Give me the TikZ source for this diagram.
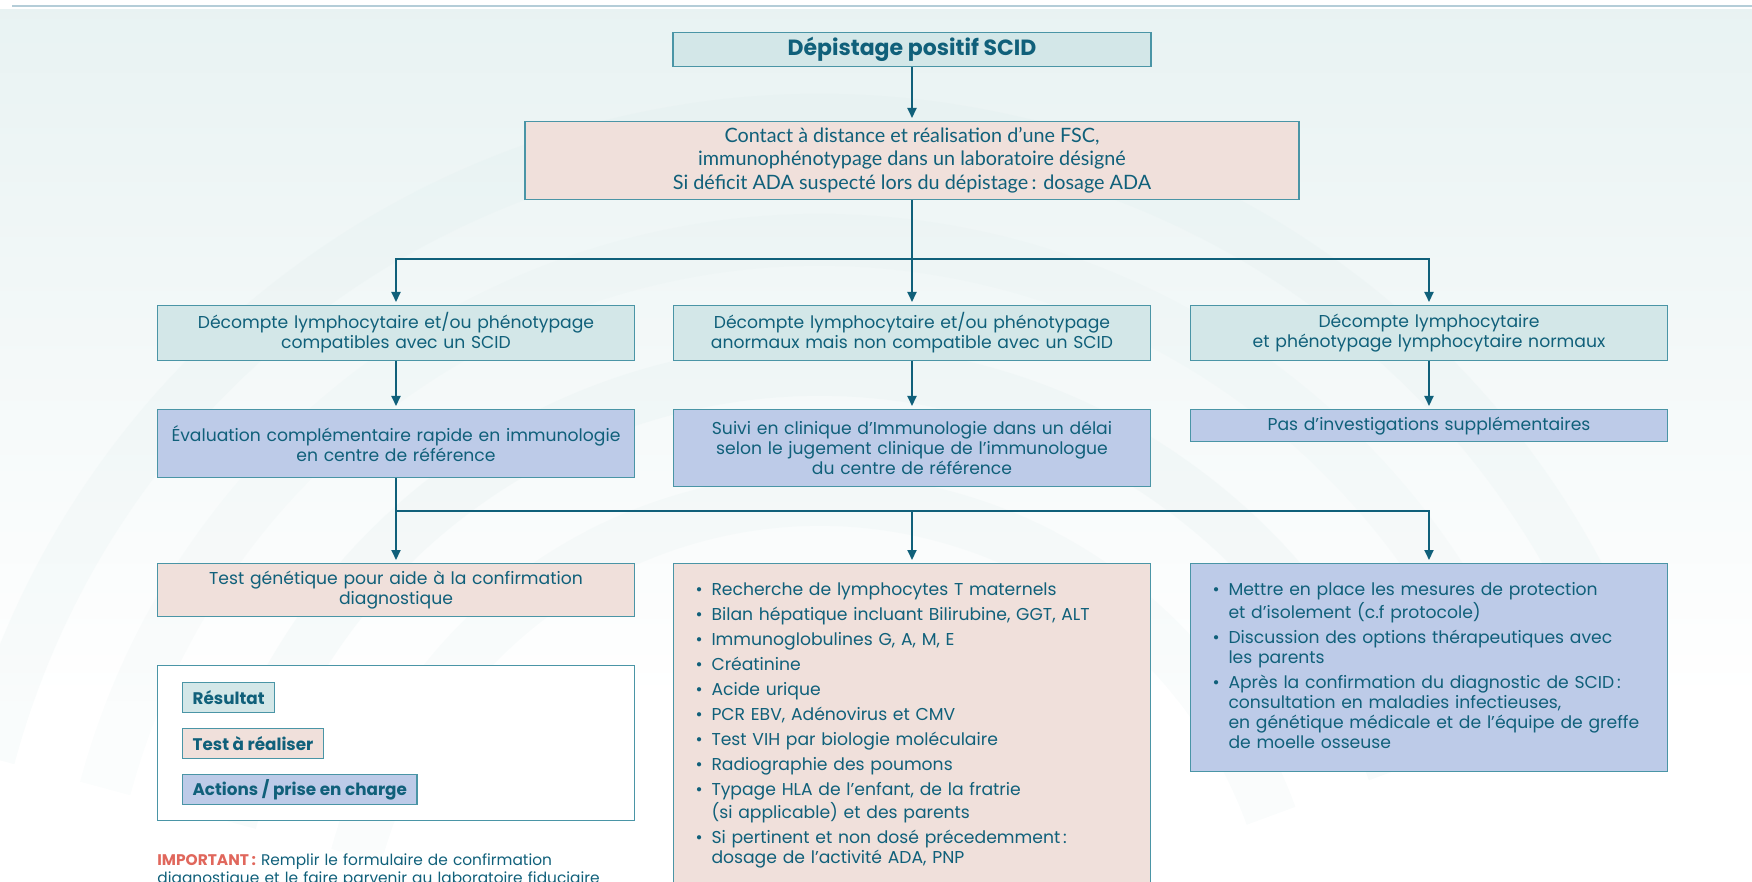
\documentclass[tikz,border=0pt]{standalone}
\usepackage{fontspec}
\setmainfont{Poppins}
\newfontfamily\etroit{Lato}
\usetikzlibrary{arrows.meta}

\definecolor{encre}{HTML}{10607A}
\definecolor{bord}{HTML}{4A95A6}
\definecolor{resfill}{HTML}{D3E7E8}
\definecolor{testfill}{HTML}{F0E0DB}
\definecolor{actfill}{HTML}{BDCBE8}
\definecolor{alerte}{HTML}{E0675C}
\definecolor{filet}{HTML}{B4CDD8}
\definecolor{voile}{HTML}{D6E8E8}

\newcommand{\puce}[1]{\par\hangindent=8pt\hangafter=1\noindent\makebox[8pt][l]{\textbullet}#1}

\tikzset{
  boite/.style={draw=bord, line width=0.6pt, text=encre, align=center, inner sep=0pt, anchor=north,
                font=\fontsize{8.6}{10}\selectfont},
  colonne/.style={minimum width=238.5pt, text width=238.5pt},
  resultat/.style={boite, fill=resfill},
  atester/.style={boite, fill=testfill},
  action/.style={boite, fill=actfill},
  liste/.style={align=left, text width=216.5pt, inner xsep=11pt, inner ysep=3.5pt},
  etiquette/.style={inner xsep=5pt, minimum height=15pt, anchor=north west,
                    font=\bfseries\fontsize{8.4}{10}\selectfont},
  fleche/.style={draw=encre, line width=1pt, shorten >=1.5pt, -{Triangle[width=4.5pt,length=5pt]}},
  trait/.style={draw=encre, line width=1pt, line cap=rect},
}

\begin{document}
\begin{tikzpicture}[x=0.5pt, y=-0.5pt]
    \useasboundingbox (0,0) rectangle (1752,882);
    \clip (0,0) rectangle (1752,882);
    \shade[top color=voile!55, bottom color=white] (0,10) rectangle (1752,700);
    \foreach \r/\o in {480/0.12, 610/0.16, 740/0.10, 860/0.14}
        \draw[voile, line width=26pt, opacity=\o] (820,980) ++(-165:\r) arc[start angle=-165, end angle=-20, radius=\r];
    \draw[filet, line width=0.8pt] (12,6) -- (1752,6);

    \node[resultat, minimum width=239pt, minimum height=17pt,
          font=\bfseries\fontsize{11}{12}\selectfont] (depistage) at (912,32) {Dépistage positif SCID};

    \node[atester, minimum width=387pt, minimum height=39pt,
          font=\etroit\fontsize{9.9}{11.2}\selectfont] (contact) at (912,121)
          {Contact à distance et réalisation d’une FSC,\\ immunophénotypage dans un laboratoire désigné\\[1pt]
           Si déficit ADA suspecté lors du dépistage\,: dosage ADA};

    \node[resultat, colonne, minimum height=27.5pt] (compat) at (396,305)
          {Décompte lymphocytaire et/ou phénotypage\\ compatibles avec un SCID};
    \node[resultat, colonne, minimum height=27.5pt] (anormal) at (912,305)
          {Décompte lymphocytaire et/ou phénotypage\\ anormaux mais non compatible avec un SCID};
    \node[resultat, colonne, minimum height=27.5pt] (normal) at (1429,305)
          {Décompte lymphocytaire\\ et phénotypage lymphocytaire normaux};

    \node[action, colonne, minimum height=34pt] (evaluation) at (396,409)
          {Évaluation complémentaire rapide en immunologie\\ en centre de référence};
    \node[action, colonne, minimum height=38.5pt] (suivi) at (912,409)
          {Suivi en clinique d’Immunologie dans un délai\\ selon le jugement clinique de l’immunologue\\ du centre de référence};
    \node[action, colonne, minimum height=16pt] (pasinv) at (1429,409)
          {Pas d’investigations supplémentaires};

    \node[atester, colonne, minimum height=26.5pt] (genetique) at (396,563)
          {Test génétique pour aide à la confirmation\\ diagnostique};
    \node[atester, liste] (bilan) at (912,563)
          {\setlength{\parskip}{2.5pt}%
           \puce{Recherche de lymphocytes T maternels}
           \puce{Bilan hépatique incluant Bilirubine, GGT, ALT}
           \puce{Immunoglobulines G, A, M, E}
           \puce{Créatinine}
           \puce{Acide urique}
           \puce{PCR EBV, Adénovirus et CMV}
           \puce{Test VIH par biologie moléculaire}
           \puce{Radiographie des poumons}
           \puce{Typage HLA de l’enfant, de la fratrie\newline (si applicable) et des parents}
           \puce{Si pertinent et non dosé précedemment\,:\newline dosage de l’activité ADA, PNP}
           \par\vspace{30pt}};
    \node[action, liste] (mesures) at (1429,563)
          {\setlength{\parskip}{2.5pt}%
           \puce{Mettre en place les mesures de protection\newline et d’isolement (c.f protocole)}
           \puce{Discussion des options thérapeutiques avec\newline les parents}
           \puce{Après la confirmation du diagnostic de SCID\,:\newline consultation en maladies infectieuses,\newline
                 en génétique médicale et de l’équipe de greffe\newline de moelle osseuse}
           \par\vspace{8pt}};

    \node[boite, fill=white, minimum width=238.5pt, minimum height=77.5pt] (legende) at (396,665) {};
    \node[resultat, etiquette] (lres) at (182,682) {Résultat};
    \node[atester, etiquette] (ltest) at (182,728) {Test à réaliser};
    \node[action, etiquette] (lact) at (182,774) {Actions / prise en charge};

    \node[anchor=north west, inner sep=0pt, text=encre, align=left, text width=320pt,
          font=\fontsize{7.7}{9}\selectfont] (important) at (157,853)
          {{\bfseries\color{alerte}IMPORTANT\,:} Remplir le formulaire de confirmation\\
           diagnostique et le faire parvenir au laboratoire fiduciaire};

    \coordinate (embr1) at (912,259);
    \coordinate (embr2) at (912,511);

    \draw[fleche] (depistage) -- (contact);
    \draw[fleche] (contact) -- (anormal);
    \draw[trait] (compat.north |- embr1) -- (normal.north |- embr1);
    \draw[fleche] (compat.north |- embr1) -- (compat);
    \draw[fleche] (normal.north |- embr1) -- (normal);

    \draw[fleche] (compat) -- (evaluation);
    \draw[fleche] (anormal) -- (suivi);
    \draw[fleche] (normal) -- (pasinv);

    \draw[fleche] (evaluation) -- (genetique);
    \draw[trait] (genetique.north |- embr2) -- (mesures.north |- embr2);
    \draw[fleche] (bilan.north |- embr2) -- (bilan);
    \draw[fleche] (mesures.north |- embr2) -- (mesures);
\end{tikzpicture}
\end{document}
